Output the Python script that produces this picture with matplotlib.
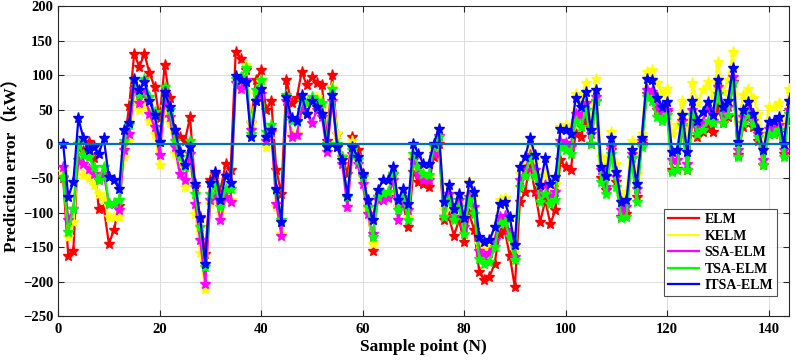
import numpy as np
import matplotlib
matplotlib.use("Agg")
import matplotlib.pyplot as plt

# sample index 1..144
samples = np.arange(1, 145)

elm = [-50, -163, -155, 0, -10, 3, -20, -94, -92, -145, -125, -90, 0, 55, 131, 112, 131, 103, 83, 37,
       114, 66, 20, 10, 5, 39, -62, -106, -160, -53, -43, -67, -29, -38, 134, 124, 107, 30, 93, 107,
       49, 63, -38, -72, 93, 59, 66, 105, 85, 97, 88, 85, 5, 100, 15, -19, -43, 10, -9, -45,
       -92, -155, -77, -72, -77, -43, -92, -87, -121, -41, -55, -58, -62, -19, 0, -111, -106, -133, -111, -142,
       -101, -125, -186, -198, -193, -174, -130, -125, -162, -208, -84, -70, -29, -70, -113, -82, -116, -96, -24, -33,
       -38, 15, 10, 34, 0, 63, -50, -67, -9, -55, -106, -101, -21, -77, 0, 73, 73, 49, 37, 47,
       -38, -36, 25, -38, 34, 10, 17, 22, 17, 54, 30, 39, 90, -16, 25, 39, 25, 5, -31, 15,
       15, 17, -14, 44]

kelm = [-40, -135, -113, -24, -45, -50, -60, -72, -82, -106, -106, -106, -19, 5, 63, 49, 59, 34, 15, -31,
        54, 30, -14, -29, -62, -14, -101, -159, -210, -87, -72, -101, -67, -82, 88, 83, 115, 30, 73, 90,
        -4, 15, -92, -130, 68, 15, 15, 44, 54, 59, 68, 54, -4, 83, 15, -19, -77, 5, -19, -53,
        -96, -145, -82, -77, -72, -53, -92, -77, -106, -19, -38, -43, -48, -9, 22, -96, -62, -92, -75, -106,
        -55, -77, -145, -150, -147, -121, -82, -79, -106, -152, -43, -29, -4, -24, -60, -43, -62, -58, 25, 27,
        22, 73, 63, 88, 39, 95, -19, -29, 17, -29, -77, -70, 5, -43, 15, 105, 107, 88, 73, 80,
        15, 27, 63, 5, 88, 59, 78, 90, 68, 119, 76, 93, 134, 30, 71, 80, 66, 44, -4, 54,
        54, 59, 25, 80]

ssa_elm = [-33, -110, -95, -24, -29, -36, -43, -53, -43, -87, -87, -96, -9, 15, 80, 59, 73, 44, 25, -16,
           63, 39, -5, -43, -53, -14, -87, -140, -203, -82, -72, -111, -77, -84, 88, 80, 93, 20, 63, 73,
           5, 17, -87, -133, 63, 10, 13, 49, 44, 30, 49, 39, -12, 63, -4, -29, -92, -14, -29, -58,
           -101, -130, -82, -81, -79, -53, -111, -87, -96, -24, -43, -53, -53, -14, 12, -106, -72, -106, -82, -121,
           -77, -92, -155, -162, -159, -140, -106, -105, -130, -164, -53, -38, -16, -38, -72, -60, -77, -70, 5, 2,
           -4, 44, 39, 59, 15, 68, -38, -62, -4, -48, -96, -92, -14, -65, 5, 78, 76, 54, 42, 49,
           -24, -24, 34, -29, 49, 25, 32, 51, 34, 83, 44, 54, 97, -9, 39, 49, 34, 15, -24, 22,
           22, 27, -9, 49]

tsa_elm = [-48, -128, -94, 0, -16, -19, -33, -53, -33, -87, -86, -82, 5, 27, 93, 71, 95, 68, 47, 3,
           83, 49, 5, -19, -33, 5, -72, -121, -179, -72, -60, -92, -65, -65, 95, 97, 110, 15, 78, 93,
           17, 27, -67, -111, 71, 34, 32, 63, 59, 68, 63, 59, 0, 80, 0, -19, -77, -9, -24, -48,
           -92, -135, -77, -71, -70, -43, -96, -77, -111, -14, -33, -43, -45, -4, 10, -106, -82, -111, -92, -130,
           -82, -101, -167, -174, -172, -150, -116, -113, -135, -169, -62, -46, -19, -46, -84, -72, -87, -82, -4, -9,
           -14, 34, 25, 49, 0, 63, -55, -72, -14, -62, -108, -106, -21, -84, -4, 68, 63, 39, 34, 42,
           -41, -38, 27, -38, 42, 15, 20, 34, 30, 73, 30, 42, 88, -19, 30, 42, 27, 10, -31, 15,
           15, 20, -19, 44]

itsa_elm = [0, -77, -55, 37, 8, -9, -5, -15, 8, -48, -52, -65, 20, 30, 95, 78, 90, 63, 42, 3,
            76, 54, 20, -12, -31, -4, -58, -108, -174, -57, -41, -82, -46, -57, 98, 93, 90, 10, 63, 80,
            10, 20, -65, -113, 68, 37, 34, 71, 44, 63, 54, 44, -4, 71, -4, -24, -75, -4, -19, -43,
            -82, -111, -67, -53, -53, -33, -82, -65, -87, 0, -14, -29, -29, 0, 22, -84, -60, -94, -72, -108,
            -57, -70, -135, -142, -140, -121, -87, -84, -106, -147, -33, -19, 8, -16, -60, -21, -58, -48, 22, 20,
            15, 66, 54, 76, 20, 78, -33, -46, 8, -41, -84, -82, -9, -58, 8, 95, 93, 66, 54, 61,
            -12, -9, 42, -12, 63, 34, 47, 61, 42, 93, 54, 63, 110, 3, 49, 61, 44, 20, -9, 32,
            34, 39, 0, 63]

series_names = ["ELM", "KELM", "SSA-ELM", "TSA-ELM", "ITSA-ELM"]
series_values = [elm, kelm, ssa_elm, tsa_elm, itsa_elm]
series_colors = ["#ff0000", "#ffff00", "#ff00ff", "#00ff00", "#0000ff"]

x_ticks = list(range(0, 141, 20))
y_ticks = list(range(-250, 201, 50))

plt.rcParams["font.family"] = ["Liberation Serif", "Noto Sans CJK SC", "DejaVu Serif"]
plt.rcParams["font.weight"] = "bold"

fig = plt.figure(figsize=(7.96, 3.63), dpi=100)
ax = fig.add_axes([0.073, 0.129, 0.918, 0.854])

handles = []
for name, vals, col in zip(series_names, series_values, series_colors):
    ax.plot(samples, vals, "-", color=col, marker="*", markersize=8, linewidth=1.6, zorder=3)
    h, = ax.plot([], [], "-", color=col, linewidth=1.6, label=name)
    handles.append(h)

# zero reference line
ax.plot([0, 144], [0, 0], color="#0072bd", linewidth=1.6, zorder=4)

ax.set_xlim(0, 144)
ax.set_ylim(-250, 200)
ax.set_xticks(x_ticks)
ax.set_yticks(y_ticks)
ax.tick_params(direction="in", top=True, right=True, labelsize=10.5, length=4, colors="#262626")
ax.tick_params(axis="x", pad=5)
for lab in ax.get_xticklabels() + ax.get_yticklabels():
    lab.set_fontweight("bold")
    lab.set_color("black")
ax.grid(True, color="#dddddd", linewidth=0.7)
ax.set_axisbelow(True)
for sp in ax.spines.values():
    sp.set_color("#262626")
    sp.set_linewidth(0.8)

ax.set_xlabel("Sample point (N)", fontsize=12.5, fontweight="bold", labelpad=2)
ax.set_ylabel("Prediction error（kW）", fontsize=12.5, fontweight="bold", labelpad=2)

leg = ax.legend(handles=handles, loc="lower right", bbox_to_anchor=(0.984, 0.064),
                fontsize=10, frameon=True, fancybox=False, edgecolor="#262626",
                handlelength=2.2, borderpad=0.3, labelspacing=0.25, handletextpad=0.4,
                borderaxespad=0)
leg.get_frame().set_linewidth(0.8)
for t in leg.get_texts():
    t.set_fontweight("bold")

fig.savefig("out.png", dpi=100)
